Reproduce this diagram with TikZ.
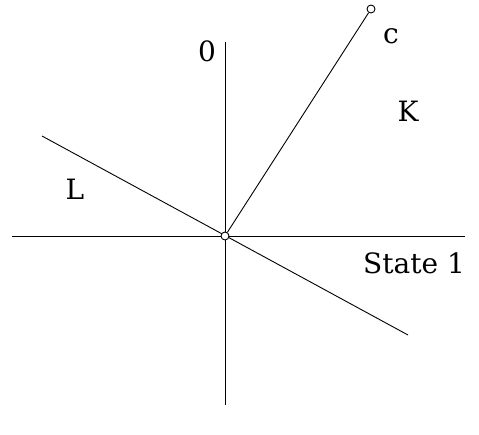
\documentclass[tikz,border=0pt]{standalone}
\usepackage{fontspec}
\setmainfont{DejaVu Serif}
\begin{document}
\begin{tikzpicture}[x=1pt,y=-1pt,line width=0.9pt,
  lbl/.style={font=\fontsize{28}{32}\selectfont,inner sep=0pt},
  dot/.style={circle,draw,fill=white,minimum size=8pt,inner sep=0pt,line width=0.9pt}]
\useasboundingbox (0,0) rectangle (479,434);
\coordinate (vt) at (225,42);
\coordinate (vb) at (225,405);
\coordinate (hl) at (12,236);
\coordinate (hr) at (465,236);
\coordinate (la) at (42,136);
\coordinate (lb) at (408,335);
\draw (vt) -- (vb);
\draw (hl) -- (hr);
\draw (la) -- (lb);
\node[dot] (o) at (225,236) {};
\node[dot] (c) at (371,9) {};
\draw (o) -- (c);
\node[lbl] (zero) at (207,51) {0};
\node[lbl] (cl) at (391,36) {c};
\node[lbl] (k) at (408,111) {K};
\node[lbl] (l) at (75,189) {L};
\node[lbl] (s) at (414,263) {State 1};
\end{tikzpicture}
\end{document}
